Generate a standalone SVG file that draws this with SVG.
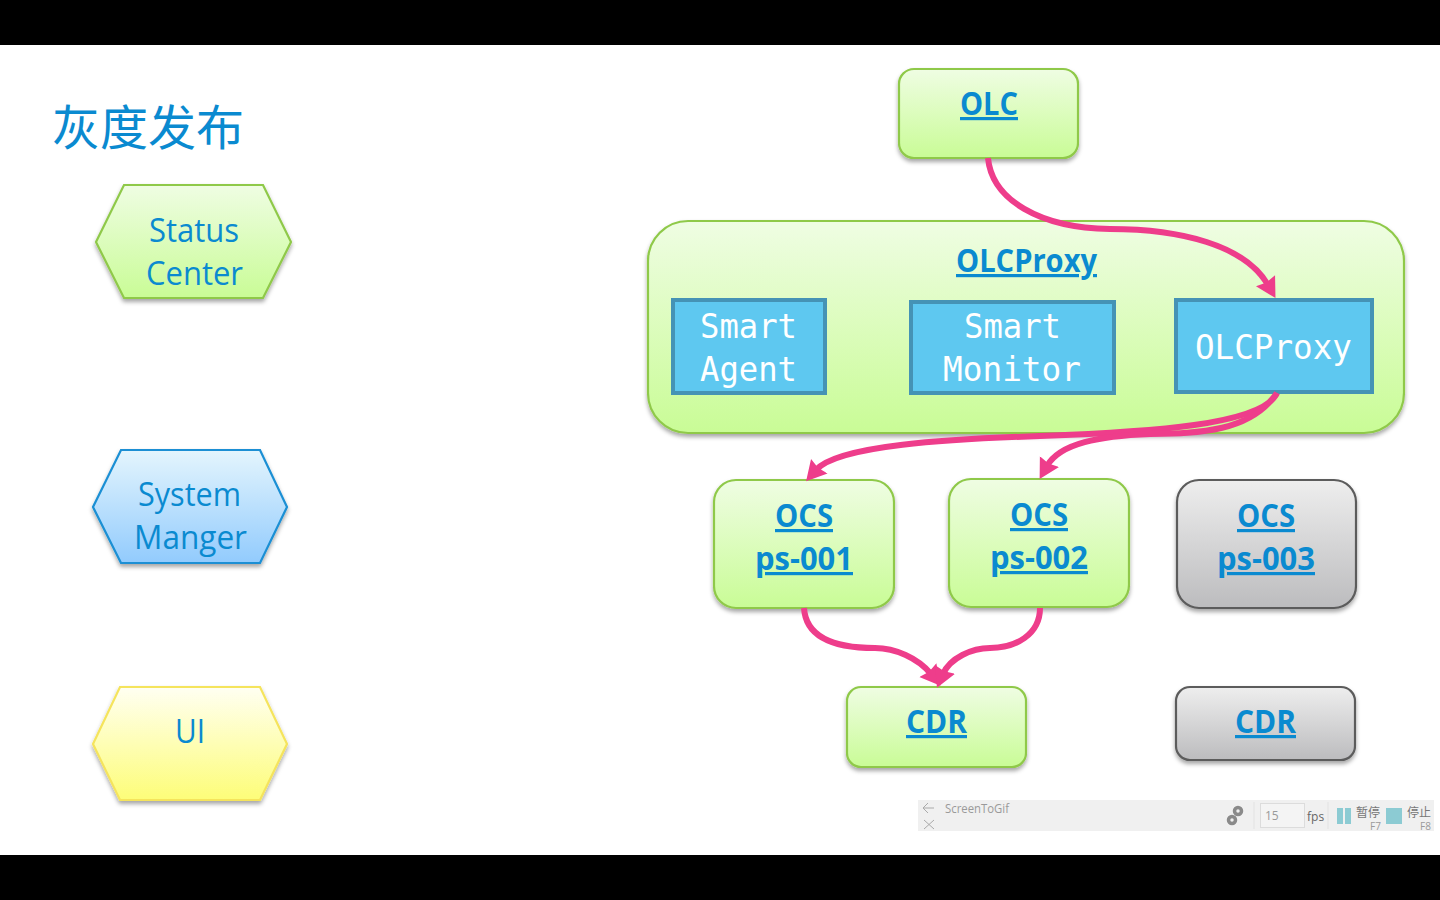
<svg xmlns="http://www.w3.org/2000/svg" width="1440" height="900" viewBox="0 0 1440 900">
<defs>
<linearGradient id="gGreen" x1="0" y1="0" x2="0" y2="1"><stop offset="0" stop-color="#effde3"/><stop offset="1" stop-color="#c9fc96"/></linearGradient>
<linearGradient id="gBlue" x1="0" y1="0" x2="0" y2="1"><stop offset="0" stop-color="#e4f5fd"/><stop offset="1" stop-color="#92cbfd"/></linearGradient>
<linearGradient id="gYellow" x1="0" y1="0" x2="0" y2="1"><stop offset="0" stop-color="#fffff2"/><stop offset="1" stop-color="#fdfd78"/></linearGradient>
<linearGradient id="gGray" x1="0" y1="0" x2="0" y2="1"><stop offset="0" stop-color="#eeeeee"/><stop offset="1" stop-color="#bcbcbe"/></linearGradient>
<filter id="sh" x="-10%" y="-10%" width="120%" height="125%"><feDropShadow dx="0" dy="3" stdDeviation="2.2" flood-color="#000" flood-opacity="0.35"/></filter>
<marker id="arrow" markerUnits="userSpaceOnUse" markerWidth="26" markerHeight="26" refX="5" refY="12" orient="auto"><path d="M0,1 L20,12 L0,23 L2,12 Z" fill="#ee3d8b"/></marker>
</defs>
<style>
.green{fill:url(#gGreen);stroke:#8fc94a;stroke-width:2.2;filter:url(#sh)}
.gray{fill:url(#gGray);stroke:#5c5c5c;stroke-width:2.2;filter:url(#sh)}
.blueHex{fill:url(#gBlue);stroke:#1a8fd4;stroke-width:2.2;filter:url(#sh)}
.yellowHex{fill:url(#gYellow);stroke:#f5e45c;stroke-width:2.2;filter:url(#sh)}
.inner{fill:#5ec8f0;stroke:#4593b5;stroke-width:4}
.link{font-family:"Open Sans","Liberation Sans",sans-serif;font-weight:700;font-size:32px;fill:#0a8ad0;text-decoration:underline}
.hex{font-family:"Open Sans","Liberation Sans",sans-serif;font-size:32px;fill:#0a8ad0}
.mono{font-family:"DejaVu Sans Mono","Liberation Mono",monospace;font-size:33px;fill:#fff}
.title{font-family:"Noto Sans CJK SC",sans-serif;font-weight:400;font-size:48px;fill:#0a8ad0}
.tb{font-family:"Open Sans","Liberation Sans",sans-serif;font-size:12px;fill:#9a9a9a}
.tbc{font-family:"Noto Sans CJK SC",sans-serif;font-size:12px;fill:#777}
.wire{fill:none;stroke:#ee3d8b;stroke-width:6;marker-end:url(#arrow)}
</style>
<rect width="1440" height="900" fill="#fff"/>
<rect width="1440" height="45" fill="#000"/>
<rect y="855" width="1440" height="45" fill="#000"/>
<text class="title" x="52" y="145" textLength="192" lengthAdjust="spacingAndGlyphs">灰度发布</text>

<g id="status-center">
<polygon class="green" points="96,242 124,185 263,185 291,242 263,298 124,298"/>
<text class="hex" x="149" y="242" textLength="90" lengthAdjust="spacingAndGlyphs">Status</text>
<text class="hex" x="146" y="285" textLength="97" lengthAdjust="spacingAndGlyphs">Center</text>
</g>
<g id="system-manger">
<polygon class="blueHex" points="93,507 121,450 260,450 287,507 260,563 121,563"/>
<text class="hex" x="138" y="506" textLength="103" lengthAdjust="spacingAndGlyphs">System</text>
<text class="hex" x="134" y="549" textLength="113" lengthAdjust="spacingAndGlyphs">Manger</text>
</g>
<g id="ui">
<polygon class="yellowHex" points="93,744 120,687 260,687 287,744 260,800 120,800"/>
<text class="hex" x="175" y="743" textLength="30" lengthAdjust="spacingAndGlyphs">UI</text>
</g>

<g id="olc">
<rect class="green" x="899" y="69" width="179" height="89" rx="15"/>
<text class="link" x="960" y="115" textLength="58" lengthAdjust="spacingAndGlyphs">OLC</text>
</g>
<g id="olcproxy-group">
<rect class="green" x="648" y="221" width="756" height="212" rx="40"/>
<text class="link" x="956" y="272" textLength="141" lengthAdjust="spacingAndGlyphs">OLCProxy</text>
</g>
<g id="smart-agent">
<rect class="inner" x="673" y="300" width="152" height="93"/>
<text class="mono" x="700" y="338" textLength="97" lengthAdjust="spacingAndGlyphs">Smart</text>
<text class="mono" x="700" y="381" textLength="97" lengthAdjust="spacingAndGlyphs">Agent</text>
</g>
<g id="smart-monitor">
<rect class="inner" x="911" y="302" width="203" height="91"/>
<text class="mono" x="964" y="338" textLength="97" lengthAdjust="spacingAndGlyphs">Smart</text>
<text class="mono" x="943" y="381" textLength="138" lengthAdjust="spacingAndGlyphs">Monitor</text>
</g>
<g id="olcproxy">
<rect class="inner" x="1176" y="300" width="196" height="92"/>
<text class="mono" x="1195" y="359" textLength="157" lengthAdjust="spacingAndGlyphs">OLCProxy</text>
</g>
<g id="ocs-1">
<rect class="green" x="714" y="480" width="180" height="128" rx="22"/>
<text class="link" x="775" y="527" textLength="58" lengthAdjust="spacingAndGlyphs">OCS</text>
<text class="link" x="755" y="570" textLength="98" lengthAdjust="spacingAndGlyphs">ps-001</text>
</g>
<g id="ocs-2">
<rect class="green" x="949" y="479" width="180" height="128" rx="22"/>
<text class="link" x="1010" y="526" textLength="58" lengthAdjust="spacingAndGlyphs">OCS</text>
<text class="link" x="990" y="569" textLength="98" lengthAdjust="spacingAndGlyphs">ps-002</text>
</g>
<g id="ocs-3">
<rect class="gray" x="1177" y="480" width="179" height="128" rx="22"/>
<text class="link" x="1237" y="527" textLength="58" lengthAdjust="spacingAndGlyphs">OCS</text>
<text class="link" x="1217" y="570" textLength="98" lengthAdjust="spacingAndGlyphs">ps-003</text>
</g>
<g id="cdr-1">
<rect class="green" x="847" y="687" width="179" height="80" rx="14"/>
<text class="link" x="906" y="733" textLength="61" lengthAdjust="spacingAndGlyphs">CDR</text>
</g>
<g id="cdr-2">
<rect class="gray" x="1176" y="687" width="179" height="73" rx="14"/>
<text class="link" x="1235" y="733" textLength="61" lengthAdjust="spacingAndGlyphs">CDR</text>
</g>

<g id="connectors">
<path class="wire" d="M988,158 C992,200 1040,228 1110,229 C1180,229 1245,245 1268,285"/>
<path class="wire" d="M1277,393 C1262,425 1150,432 1040,436 C950,439 838,445 816,470"/>
<path class="wire" d="M1277,393 C1250,432 1200,433 1150,434 C1100,436 1060,443 1047,466"/>
<path class="wire" d="M804,608 C806,640 840,648 875,648 C895,648 918,658 931,674"/>
<path class="wire" d="M1040,608 C1040,635 1015,648 990,648 C972,648 950,658 943,674"/>
</g>

<g id="toolbar">
<rect x="918" y="800" width="516" height="31" fill="#f0f0f0"/>
<path d="M934,808 H923 M928,803 L923,808 L928,813 M924,820 L934,829 M934,820 L924,829" fill="none" stroke="#aaa" stroke-width="1"/>
<text class="tb" x="945" y="813" textLength="64" lengthAdjust="spacingAndGlyphs">ScreenToGif</text>
<circle cx="1238" cy="811" r="3.500" fill="none" stroke="#8a8a8a" stroke-width="3.500"/>
<circle cx="1232" cy="820" r="3.500" fill="none" stroke="#8a8a8a" stroke-width="3.500"/>
<path d="M1254,802 V829 M1328,802 V829" stroke="#e2e2e2" stroke-width="1"/>
<rect x="1260.500" y="803.500" width="44" height="24" fill="#f4f4f4" stroke="#dcdcdc"/>
<text class="tb" x="1265" y="820">15</text>
<text class="tb" x="1307" y="821" style="fill:#666">fps</text>
<rect x="1337" y="808" width="6" height="16" fill="#8ccbd3"/>
<rect x="1345" y="808" width="6" height="16" fill="#8ccbd3"/>
<text class="tbc" x="1356" y="817">暂停</text>
<text class="tb" x="1370" y="830" style="font-size:10px">F7</text>
<rect x="1386" y="808" width="16" height="16" fill="#8ccbd3"/>
<text class="tbc" x="1407" y="817">停止</text>
<text class="tb" x="1420" y="830" style="font-size:10px">F8</text>
</g>
</svg>
